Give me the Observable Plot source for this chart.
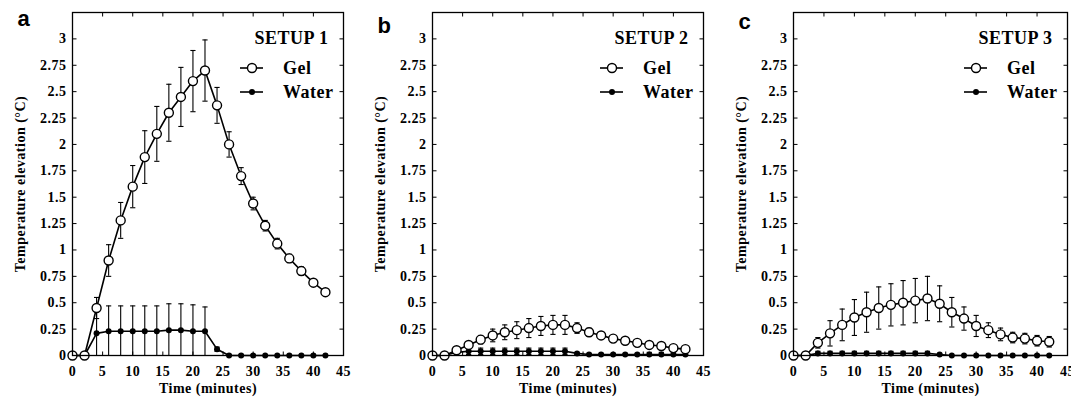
<!DOCTYPE html>
<html><head><meta charset="utf-8">
<script src="https://cdn.jsdelivr.net/npm/d3@7"></script>
<script src="https://cdn.jsdelivr.net/npm/@observablehq/plot@0.6"></script>
<style>
body{margin:0;background:#fff;}
#wrap{position:relative;width:1071px;height:405px;overflow:hidden;background:#fff;}
#wrap > svg{position:absolute;top:0;}
</style></head><body><div id="wrap"></div>
<script>
// ---- data ----
const time = [0,2,4,6,8,10,12,14,16,18,20,22,24,26,28,30,32,34,36,38,40,42];

const gel1    = [0,0,0.45,0.9,1.28,1.6,1.88,2.1,2.3,2.45,2.6,2.7,2.37,2.0,1.7,1.44,1.23,1.06,0.92,0.8,0.69,0.6];
const gel1Err = [0,0,0.1,0.15,0.17,0.2,0.25,0.26,0.27,0.28,0.29,0.29,0.17,0.12,0.08,0.06,0.05,0.05,0.04,0.04,0.03,0.03];
const water1    = [0,0,0.21,0.23,0.23,0.23,0.23,0.23,0.24,0.24,0.23,0.23,0.06,0,0,0,0,0,0,0,0,0];
const water1Err = [0,0,0.25,0.24,0.24,0.24,0.24,0.24,0.25,0.25,0.25,0.23,0.02,0.01,0.01,0.01,0,0,0.01,0.01,0.01,0.01];

const gel2    = [0,0,0.05,0.1,0.15,0.19,0.22,0.24,0.26,0.28,0.29,0.29,0.26,0.22,0.19,0.16,0.14,0.12,0.1,0.09,0.07,0.06];
const gel2Err = [0,0,0.02,0.03,0.04,0.06,0.07,0.08,0.09,0.09,0.09,0.09,0.05,0.04,0.03,0.03,0.02,0.02,0.02,0.02,0.02,0.02];
const water2    = [0,0,0.03,0.04,0.04,0.04,0.04,0.04,0.04,0.04,0.04,0.04,0.02,0.01,0.01,0.01,0.01,0.01,0.01,0.01,0.01,0.01];
const water2Err = [0,0,0.03,0.03,0.03,0.03,0.03,0.03,0.03,0.03,0.03,0.03,0.01,0.01,0.01,0.01,0.01,0.01,0.02,0.02,0.02,0.02];

const gel3    = [0,0,0.12,0.21,0.29,0.36,0.41,0.45,0.48,0.5,0.52,0.54,0.49,0.41,0.35,0.28,0.24,0.2,0.17,0.16,0.14,0.13];
const gel3Err = [0,0,0.05,0.12,0.15,0.17,0.19,0.2,0.2,0.21,0.21,0.21,0.17,0.14,0.11,0.1,0.07,0.06,0.05,0.05,0.05,0.05];
const water3    = [0,0,0.02,0.02,0.02,0.02,0.02,0.02,0.02,0.02,0.02,0.02,0.01,0,0,0,0,0,0,0,0,0];
const water3Err = [0,0,0.02,0.02,0.02,0.02,0.02,0.02,0.02,0.02,0.02,0.02,0.01,0,0,0,0,0,0,0,0.01,0.01];

const xTicks = [0,5,10,15,20,25,30,35,40,45];
const yTicks = [0,0.25,0.5,0.75,1,1.25,1.5,1.75,2,2.25,2.5,2.75,3];
const setupLabels = ["SETUP 1","SETUP 2","SETUP 3"];
const panelLetters = ["a","b","c"];
const seriesNames = ["Gel","Water"];
const xTitle = "Time (minutes)";
const yTitle = "Temperature elevation (°C)";

const gels = [gel1, gel2, gel3], gelErrs = [gel1Err, gel2Err, gel3Err];
const waters = [water1, water2, water3], waterErrs = [water1Err, water2Err, water3Err];

// ---- layout ----
const panels = [
  {left: 0,   width: 357, marginRight: 14, letterY: 25},
  {left: 360, width: 357, marginRight: 14, letterY: 32},
  {left: 721, width: 350, marginRight: 4,  letterY: 28}
];
const SERIF = "'Liberation Serif','Times New Roman',serif";
const SANS = "'Liberation Sans',Arial,sans-serif";

const hline = {draw(ctx, size){ const r = Math.sqrt(size/Math.PI); ctx.moveTo(-r,0); ctx.lineTo(r,0); }};
const vline = {draw(ctx, size){ const r = Math.sqrt(size/Math.PI); ctx.moveTo(0,-r); ctx.lineTo(0,r); }};

function legendMark(index, scales, values, dims) {
  const g = d3.create("svg:g").attr("font-family", SERIF).attr("font-weight", "bold");
  const xr = dims.width - dims.marginRight;
  seriesNames.forEach((name, k) => {
    const y = dims.marginTop + 56 + k * 24;
    g.append("line").attr("x1", xr - 103).attr("x2", xr - 80).attr("y1", y).attr("y2", y)
      .attr("stroke", "#000").attr("stroke-width", 1.6);
    if (k === 0) {
      g.append("circle").attr("cx", xr - 91).attr("cy", y).attr("r", 4.5)
        .attr("fill", "#fff").attr("stroke", "#000").attr("stroke-width", 1.4);
    } else {
      g.append("circle").attr("cx", xr - 91).attr("cy", y).attr("r", 3).attr("fill", "#000");
    }
    g.append("text").attr("x", xr - 60).attr("y", y).attr("dy", "0.35em")
      .attr("text-anchor", "start")
      .attr("font-size", 18).attr("fill", "#000").text(name);
  });
  return g.node();
}

function makePanel(i) {
  const p = panels[i];
  const gelRows = time.map((t, k) => ({t, v: gels[i][k], e: gelErrs[i][k]}));
  const waterRows = time.map((t, k) => ({t, v: waters[i][k], e: waterErrs[i][k]}));
  const errMarks = (rows) => [
    Plot.ruleX(rows, {filter: d => d.e > 0, x: "t", y1: d => d.v - d.e, y2: d => d.v + d.e, stroke: "#000", strokeWidth: 1.1, clip: true}),
    Plot.dot(rows, {filter: d => d.e > 0, x: "t", y: d => d.v + d.e, symbol: hline, r: 2.6, stroke: "#000", strokeWidth: 1.1}),
    Plot.dot(rows, {filter: d => d.e > 0 && d.v - d.e > 0, x: "t", y: d => d.v - d.e, symbol: hline, r: 2.6, stroke: "#000", strokeWidth: 1.1})
  ];
  const svg = Plot.plot({
    width: p.width, height: 405,
    marginLeft: 72, marginRight: p.marginRight, marginTop: 12, marginBottom: 50,
    style: {fontFamily: SERIF, fontWeight: "bold", fontSize: "14px", color: "#000", background: "#fff", letterSpacing: "0.5px"},
    x: {domain: [0, 45]},
    y: {domain: [0, 3.25]},
    marks: [
      // inner ticks on all four sides
      Plot.dot(xTicks.slice(1, -1), {x: d => d, frameAnchor: "bottom", dy: -2, symbol: vline, r: 2, stroke: "#000", strokeWidth: 1}),
      Plot.dot(xTicks.slice(1, -1), {x: d => d, frameAnchor: "top", dy: 2, symbol: vline, r: 2, stroke: "#000", strokeWidth: 1}),
      Plot.dot(yTicks.slice(1), {y: d => d, frameAnchor: "left", dx: 2, symbol: hline, r: 2, stroke: "#000", strokeWidth: 1}),
      Plot.dot(yTicks.slice(1), {y: d => d, frameAnchor: "right", dx: -2, symbol: hline, r: 2, stroke: "#000", strokeWidth: 1}),
      Plot.axisX({ticks: xTicks, tickSize: 0, tickPadding: 11, tickFormat: d => String(d), label: null}),
      Plot.axisY({ticks: yTicks, tickSize: 0, tickPadding: 6, tickFormat: d => String(d), label: null}),
      ...errMarks(waterRows),
      Plot.line(waterRows, {x: "t", y: "v", stroke: "#000", strokeWidth: 1.6}),
      ...errMarks(gelRows),
      Plot.line(gelRows, {x: "t", y: "v", stroke: "#000", strokeWidth: 1.6}),
      Plot.dot(waterRows, {x: "t", y: "v", r: 3, fill: "#000"}),
      Plot.dot(gelRows, {x: "t", y: "v", r: 4.5, fill: "#fff", stroke: "#000", strokeWidth: 1.4}),
      Plot.frame({stroke: "#000", strokeWidth: 1.3}),
      Plot.text([xTitle], {frameAnchor: "bottom", dy: 37, textAnchor: "middle", fontSize: 14, fontWeight: "bold", fontFamily: SERIF}),
      Plot.text([yTitle], {frameAnchor: "left", dx: -52, rotate: -90, textAnchor: "middle", fontSize: 14, fontWeight: "bold", fontFamily: SERIF}),
      Plot.text([setupLabels[i]], {frameAnchor: "top-right", dx: -15, dy: 19, textAnchor: "end", fontSize: 18, fontWeight: "bold", fontFamily: SERIF}),
      Plot.text([panelLetters[i]], {frameAnchor: "top-left", dx: -55, dy: p.letterY - 12, lineAnchor: "bottom", textAnchor: "start", fontSize: 22, fontWeight: "bold", fontFamily: SANS}),
      legendMark
    ]
  });
  svg.style.left = p.left + "px";
  return svg;
}

const wrap = document.getElementById("wrap");
[0, 1, 2].forEach(i => wrap.appendChild(makePanel(i)));
</script>
</body></html>
